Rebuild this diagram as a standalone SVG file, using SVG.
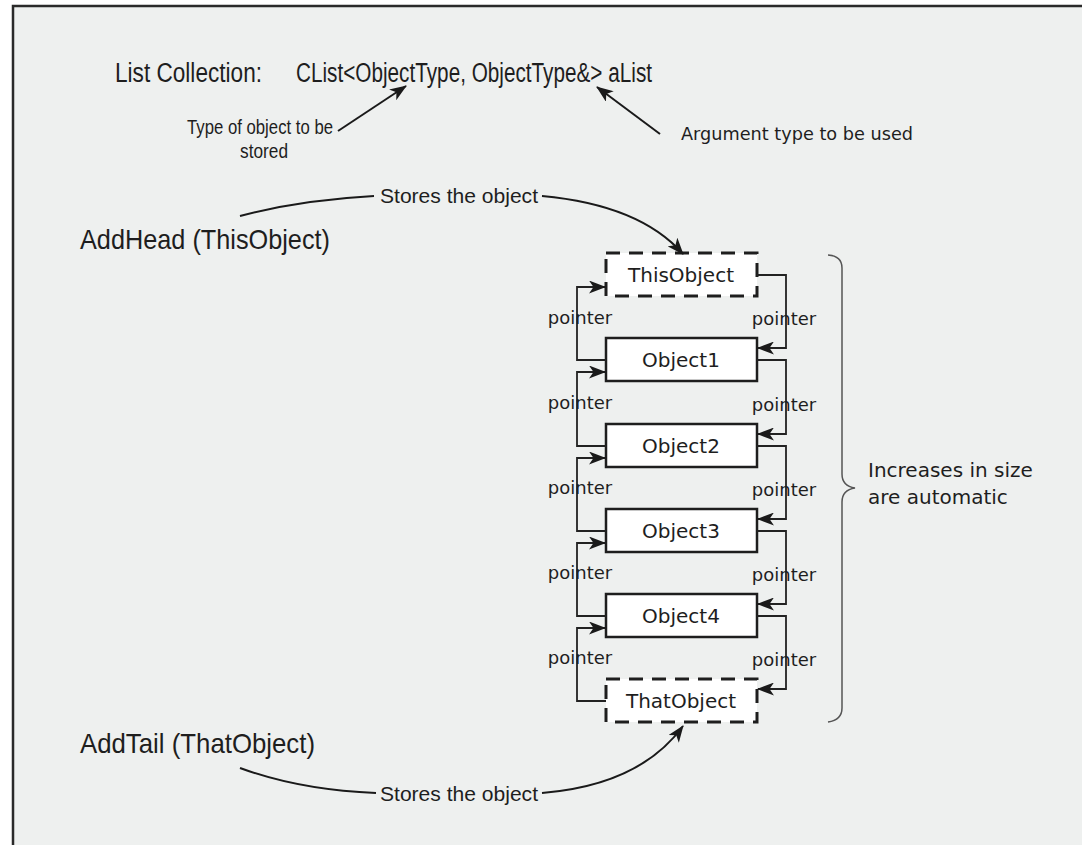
<svg xmlns="http://www.w3.org/2000/svg" width="1082" height="845" viewBox="0 0 1082 845">
<defs>
<marker id="ah" markerUnits="userSpaceOnUse" markerWidth="17" markerHeight="13" refX="16" refY="6.5" orient="auto">
<path d="M0,0 L17,6.5 L0,13 L4.5,6.5 z" fill="#1a1a1a"/>
</marker>
<style>
.bg{fill:#eef0ef;stroke:#2a2a2a;stroke-width:2.5}
.cond{font-family:"Liberation Sans Narrow","Liberation Sans",Arial,sans-serif;fill:#1e1e1e}
.wide{font-family:"DejaVu Sans","Verdana",sans-serif;fill:#1e1e1e}
.box{fill:#fff;stroke:#1e1e1e;stroke-width:2.5}
.dbox{fill:#fff;stroke:#1e1e1e;stroke-width:3;stroke-dasharray:14 9}
.lbl{font-size:20px;text-anchor:middle}
.ptr{font-size:18px;text-anchor:middle}
.conn{fill:none;stroke:#222;stroke-width:1.8}
.curve{fill:none;stroke:#1a1a1a;stroke-width:2}
</style>
</defs>
<rect x="0" y="0" width="1082" height="845" fill="#fff"/>
<rect class="bg" x="13" y="6" width="1100" height="900"/>

<g id="header">
<text class="cond" x="115" y="82" font-size="27" textLength="147" lengthAdjust="spacingAndGlyphs">List Collection:</text>
<text class="cond" x="296" y="82" font-size="27" textLength="356" lengthAdjust="spacingAndGlyphs">CList&lt;ObjectType, ObjectType&amp;&gt; aList</text>
</g>

<g id="note-type">
<text class="cond" x="187" y="134" font-size="20" textLength="146" lengthAdjust="spacingAndGlyphs">Type of object to be</text>
<text class="cond" x="264" y="158" font-size="20" text-anchor="middle" textLength="48" lengthAdjust="spacingAndGlyphs">stored</text>
</g>

<g id="note-arg">
<text class="wide" x="681" y="140" font-size="17" textLength="232" lengthAdjust="spacingAndGlyphs">Argument type to be used</text>
</g>

<g id="addhead">
<text class="cond" x="80" y="249" font-size="28" textLength="250" lengthAdjust="spacingAndGlyphs">AddHead (ThisObject)</text>
</g>
<g id="addtail">
<text class="cond" x="80" y="753" font-size="28" textLength="235" lengthAdjust="spacingAndGlyphs">AddTail (ThatObject)</text>
</g>

<g id="stores-top">
<text class="cond" x="380" y="203" font-size="21" textLength="158" lengthAdjust="spacingAndGlyphs">Stores the object</text>
</g>
<g id="stores-bottom">
<text class="cond" x="380" y="801" font-size="21" textLength="158" lengthAdjust="spacingAndGlyphs">Stores the object</text>
</g>

<g id="ThisObject">
<rect class="dbox" x="606" y="253" width="151" height="43"/>
<text class="wide lbl" x="681" y="282">ThisObject</text>
</g>
<g id="Object1">
<rect class="box" x="606" y="338" width="151" height="43"/>
<text class="wide lbl" x="681" y="367">Object1</text>
</g>
<g id="Object2">
<rect class="box" x="606" y="424" width="151" height="43"/>
<text class="wide lbl" x="681" y="453">Object2</text>
</g>
<g id="Object3">
<rect class="box" x="606" y="509" width="151" height="43"/>
<text class="wide lbl" x="681" y="538">Object3</text>
</g>
<g id="Object4">
<rect class="box" x="606" y="594" width="151" height="43"/>
<text class="wide lbl" x="681" y="623">Object4</text>
</g>
<g id="ThatObject">
<rect class="dbox" x="606" y="679" width="151" height="43"/>
<text class="wide lbl" x="681" y="708">ThatObject</text>
</g>

<g id="connectors">
<path class="curve" d="M338,131 L406,86" marker-end="url(#ah)"/>
<path class="curve" d="M660,134 L597,87" marker-end="url(#ah)"/>
<path class="curve" d="M240,216 Q300,200 374,196"/>
<path class="curve" d="M542,196 Q640,205 683,254" marker-end="url(#ah)"/>
<path class="curve" d="M240,768 Q300,790 376,793"/>
<path class="curve" d="M542,793 Q640,785 683,726" marker-end="url(#ah)"/>

<path class="conn" d="M606,360 H577 V287 H605" marker-end="url(#ah)"/>
<path class="conn" d="M606,446 H577 V372 H605" marker-end="url(#ah)"/>
<path class="conn" d="M606,531 H577 V458 H605" marker-end="url(#ah)"/>
<path class="conn" d="M606,616 H577 V543 H605" marker-end="url(#ah)"/>
<path class="conn" d="M606,701 H577 V628 H605" marker-end="url(#ah)"/>

<path class="conn" d="M757,275 H786 V348 H758" marker-end="url(#ah)"/>
<path class="conn" d="M757,360 H786 V434 H758" marker-end="url(#ah)"/>
<path class="conn" d="M757,446 H786 V519 H758" marker-end="url(#ah)"/>
<path class="conn" d="M757,531 H786 V604 H758" marker-end="url(#ah)"/>
<path class="conn" d="M757,616 H786 V689 H758" marker-end="url(#ah)"/>

<path fill="none" stroke="#555" stroke-width="1.5" d="M828,255 Q842,256 842,268 V474 Q842,486 855,488 Q842,490 842,502 V708 Q842,720 828,722"/>
</g>

<g id="pointer-labels">
<text class="wide ptr" x="580" y="324">pointer</text>
<text class="wide ptr" x="580" y="409">pointer</text>
<text class="wide ptr" x="580" y="494">pointer</text>
<text class="wide ptr" x="580" y="579">pointer</text>
<text class="wide ptr" x="580" y="664">pointer</text>
<text class="wide ptr" x="784" y="325">pointer</text>
<text class="wide ptr" x="784" y="411">pointer</text>
<text class="wide ptr" x="784" y="496">pointer</text>
<text class="wide ptr" x="784" y="581">pointer</text>
<text class="wide ptr" x="784" y="666">pointer</text>
</g>

<g id="brace-note">
<text class="wide" x="868" y="477" font-size="20">Increases in size</text>
<text class="wide" x="868" y="504" font-size="20">are automatic</text>
</g>
</svg>
